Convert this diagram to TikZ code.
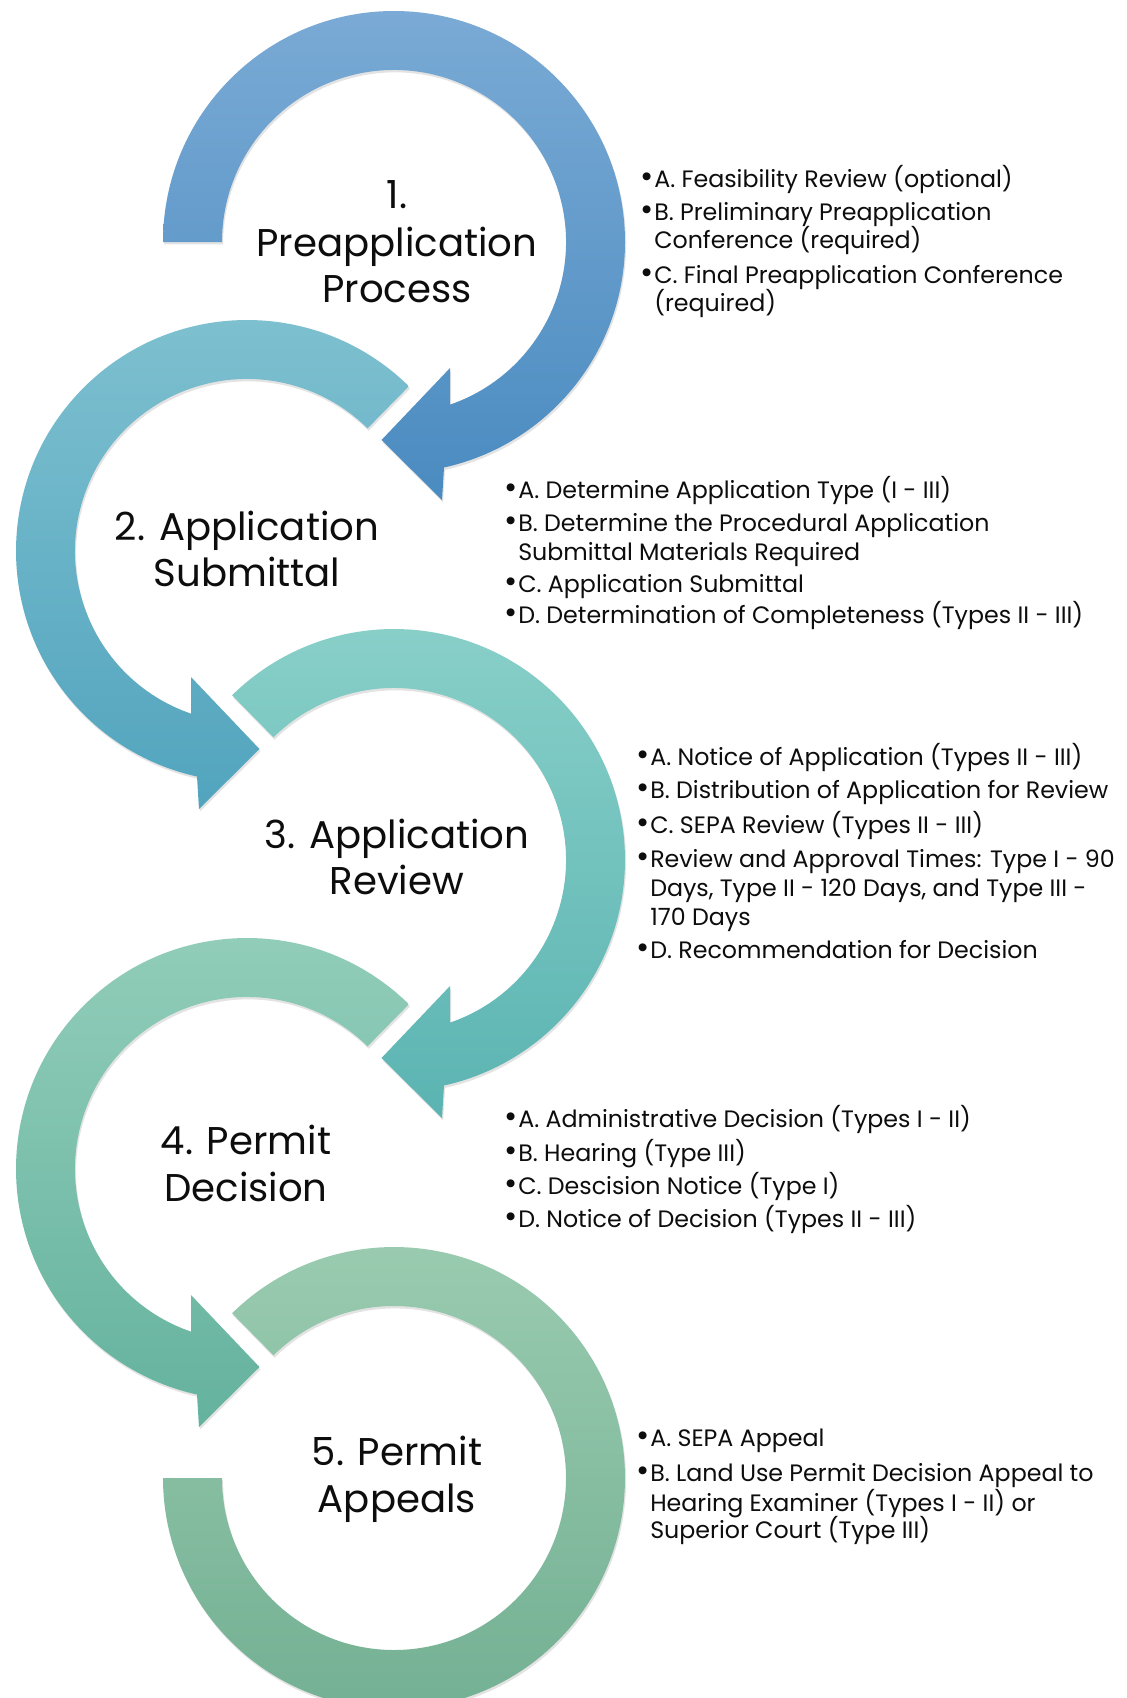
\documentclass[tikz,border=0pt]{standalone}
\usepackage{fontspec}
\setmainfont{Poppins}
\usetikzlibrary{shadows}
\definecolor{rAt}{HTML}{7AAAD5}\definecolor{rAb}{HTML}{4A8BC0}
\definecolor{rBt}{HTML}{7FC1D0}\definecolor{rBb}{HTML}{52A4BE}
\definecolor{rCt}{HTML}{8AD0C9}\definecolor{rCb}{HTML}{5BB4B2}
\definecolor{rDt}{HTML}{93CEBA}\definecolor{rDb}{HTML}{64B29E}
\definecolor{rEt}{HTML}{9BCCB1}\definecolor{rEb}{HTML}{72AF92}
\definecolor{txt}{HTML}{0D0D0D}
\newcommand{\bul}{\llap{\raisebox{-0.02em}{\scalebox{1.35}{•}}\hspace{0.5pt}}}
\begin{document}
\begin{tikzpicture}[x=0.75pt,y=0.75pt,
  ring/.style={drop shadow={opacity=0.22,shadow xshift=0.8pt,shadow yshift=-1.8pt}},
  titletext/.style={font=\fontsize{29}{35}\selectfont, anchor=base, inner sep=0pt, text=txt},
  itemtext/.style={font=\fontsize{17.8}{21}\selectfont, anchor=base west, inner sep=0pt, text=txt}]
\useasboundingbox[fill=white] (0,0) rectangle (1127,-1698);

% ring centres
\coordinate (c1) at (394,-242);
\coordinate (c2) at (247,-551);
\coordinate (c3) at (394,-860);
\coordinate (c4) at (247,-1169);
\coordinate (c5) at (394,-1478);

% ring 5 (no arrowhead)
\begin{scope}[shift={(c5)}]
\path[ring, top color=rEt, bottom color=rEb]
  (134.5:231) arc[start angle=134.5, end angle=-180, radius=231]
  -- (180:172) arc[start angle=-180, end angle=134.5, radius=172] -- cycle;
\end{scope}
% ring 4
\begin{scope}[shift={(c4)}]
\path[ring, top color=rDt, bottom color=rDb]
  (45.5:231) arc[start angle=45.5, end angle=257.5, radius=231]
  -- (-48,-258) -- (12.5,-198) -- (-56,-126)
  -- (251:172) arc[start angle=251, end angle=45.5, radius=172] -- cycle;
\end{scope}
% ring 3
\begin{scope}[shift={(c3)}]
\path[ring, top color=rCt, bottom color=rCb]
  (134.5:231) arc[start angle=134.5, end angle=-77.5, radius=231]
  -- (48,-258) -- (-12.5,-198) -- (56,-126)
  -- (-71:172) arc[start angle=-71, end angle=134.5, radius=172] -- cycle;
\end{scope}
% ring 2
\begin{scope}[shift={(c2)}]
\path[ring, top color=rBt, bottom color=rBb]
  (45.5:231) arc[start angle=45.5, end angle=257.5, radius=231]
  -- (-48,-258) -- (12.5,-198) -- (-56,-126)
  -- (251:172) arc[start angle=251, end angle=45.5, radius=172] -- cycle;
\end{scope}
% ring 1
\begin{scope}[shift={(c1)}]
\path[ring, top color=rAt, bottom color=rAb]
  (180:231) arc[start angle=180, end angle=-77.5, radius=231]
  -- (48,-258) -- (-12.5,-198) -- (56,-126)
  -- (-71:172) arc[start angle=-71, end angle=180, radius=172] -- cycle;
\end{scope}

% titles
\node[titletext] (t1a) at (397,-208) {1.};
\node[titletext] (t1b) at (397,-256) {Preapplication};
\node[titletext] (t1c) at (397,-302) {Process};
\node[titletext] (t2a) at (247,-540) {2. Application};
\node[titletext] (t2b) at (247,-586) {Submittal};
\node[titletext] (t3a) at (397,-848) {3. Application};
\node[titletext] (t3b) at (397,-894) {Review};
\node[titletext] (t4a) at (246,-1154) {4. Permit};
\node[titletext] (t4b) at (246,-1201) {Decision};
\node[titletext] (t5a) at (397,-1465) {5. Permit};
\node[titletext] (t5b) at (397,-1512) {Appeals};

% bullets block 1
\node[itemtext] (b1a) at (654,-187) {\bul A. Feasibility Review (optional)};
\node[itemtext] (b1b) at (654,-220) {\bul B. Preliminary Preapplication};
\node[itemtext] (b1c) at (654,-248) {Conference (required)};
\node[itemtext] (b1d) at (654,-283) {\bul C. Final Preapplication Conference};
\node[itemtext] (b1e) at (654,-311) {(required)};
% block 2
\node[itemtext] (b2a) at (518,-498) {\bul A. Determine Application Type (I - III)};
\node[itemtext] (b2b) at (518,-531) {\bul B. Determine the Procedural Application};
\node[itemtext] (b2c) at (518,-560) {Submittal Materials Required};
\node[itemtext] (b2d) at (518,-592) {\bul C. Application Submittal};
\node[itemtext] (b2e) at (518,-623) {\bul D. Determination of Completeness (Types II - III)};
% block 3
\node[itemtext] (b3a) at (650,-765) {\bul A. Notice of Application (Types II - III)};
\node[itemtext] (b3b) at (650,-798) {\bul B. Distribution of Application for Review};
\node[itemtext] (b3c) at (650,-833) {\bul C. SEPA Review (Types II - III)};
\node[itemtext] (b3d) at (650,-867) {\bul Review and Approval Times: Type I - 90};
\node[itemtext] (b3e) at (650,-896) {Days, Type II - 120 Days, and Type III -};
\node[itemtext] (b3f) at (650,-925) {170 Days};
\node[itemtext] (b3g) at (650,-958) {\bul D. Recommendation for Decision};
% block 4
\node[itemtext] (b4a) at (518,-1127) {\bul A. Administrative Decision (Types I - II)};
\node[itemtext] (b4b) at (518,-1161) {\bul B. Hearing (Type III)};
\node[itemtext] (b4c) at (518,-1194) {\bul C. Descision Notice (Type I)};
\node[itemtext] (b4d) at (518,-1227) {\bul D. Notice of Decision (Types II - III)};
% block 5
\node[itemtext] (b5a) at (650,-1446) {\bul A. SEPA Appeal};
\node[itemtext] (b5b) at (650,-1481) {\bul B. Land Use Permit Decision Appeal to};
\node[itemtext] (b5c) at (650,-1511) {Hearing Examiner (Types I - II) or};
\node[itemtext] (b5d) at (650,-1538) {Superior Court (Type III)};
\end{tikzpicture}
\end{document}
